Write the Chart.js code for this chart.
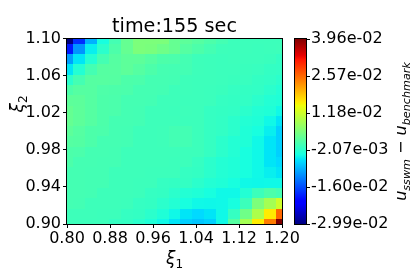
<!DOCTYPE html>
<html><head><meta charset="utf-8">
<script src="https://cdn.jsdelivr.net/npm/chart.js@4/dist/chart.umd.min.js"></script>
<style>html,body{margin:0;padding:0;background:#fff}#wrap{width:415px;height:271px}</style>
</head><body><div id="wrap"><canvas id="c" width="415" height="271"></canvas></div>
<script>
const titleText = 'time:155 sec';
const xLabel = ['ξ', '1'];
const yLabel = ['ξ', '2'];
// grid nodes (cell centres)
const xNodes = [0.8000,0.8222,0.8444,0.8667,0.8889,0.9111,0.9333,0.9556,0.9778,1.0000,1.0222,1.0444,1.0667,1.0889,1.1111,1.1333,1.1556,1.1778,1.2000];
const yNodes = [1.1000,1.0889,1.0778,1.0667,1.0556,1.0444,1.0333,1.0222,1.0111,1.0000,0.9889,0.9778,0.9667,0.9556,0.9444,0.9333,0.9222,0.9111,0.9000];
const xTicks = [0.80,0.88,0.96,1.04,1.12,1.20];
const yTicks = [0.90,0.94,0.98,1.02,1.06,1.10];
const cbTickValues = [-0.029856,-0.015964,-0.002072,0.011821,0.025713,0.039605];
const cbTickLabels = ['-2.99e-02','-1.60e-02','-2.07e-03','1.18e-02','2.57e-02','3.96e-02'];
// u_sswm - u_benchmark, in units of 1e-3, rows from y=1.10 (top) to y=0.90 (bottom)
const valueRows = [
[-29.856,-18.1,-9.1,-3.5,0.2,3.0,4.9,4.9,4.9,3.0,2.3,1.6,0.9,0.2,-0.5,-0.5,-0.5,-0.5,-0.5],
[-19.5,-11.1,-4.9,-1.9,0.9,3.0,4.9,4.7,3.8,3.0,1.6,0.9,0.2,-0.4,-0.5,-0.5,-0.6,-0.5,-0.4],
[-10.4,-5.6,-2.6,0.2,1.6,2.3,2.3,1.6,0.9,0.8,0.2,-0.4,-0.5,-0.6,-0.5,-0.6,-0.6,-0.7,-1.2],
[-5.6,-2.6,0.2,1.6,1.7,2.3,1.6,0.9,0.3,0.2,0.1,-0.4,-0.5,-0.6,-0.6,-0.7,-0.8,-1.2,-1.3],
[-1.9,0.2,1.6,1.7,1.6,0.9,0.8,0.2,0.2,0.1,-0.4,-0.5,-0.5,-0.6,-0.7,-0.8,-1.2,-1.4,-1.9],
[0.9,1.6,1.6,1.0,0.9,0.8,0.2,0.2,0.1,-0.4,-0.4,-0.5,-0.6,-0.7,-1.1,-1.2,-1.3,-1.9,-2.6],
[2.3,2.2,1.6,0.9,0.8,0.2,0.2,0.1,-0.4,-0.4,-0.5,-0.5,-0.6,-1.1,-1.2,-1.3,-1.9,-2.6,-2.9],
[3.0,2.3,1.6,0.9,0.8,0.2,0.1,-0.4,-0.4,-0.5,-0.4,-0.5,-1.1,-1.2,-1.3,-1.9,-2.6,-2.9,-4.2],
[3.0,2.3,1.6,0.9,0.2,0.2,0.1,-0.4,-0.4,-0.4,-0.5,-0.5,-1.1,-1.3,-1.9,-2.6,-2.9,-4.2,-5.6],
[2.3,1.6,0.9,0.8,0.2,0.1,-0.4,-0.4,-0.3,0.1,0.1,-0.5,-1.1,-1.3,-1.9,-2.9,-3.5,-4.9,-7.0],
[1.6,1.5,0.9,0.2,0.2,0.1,-0.4,-0.4,-0.3,0.1,0.1,-0.5,-1.1,-1.9,-2.6,-2.9,-4.2,-5.6,-7.0],
[0.9,0.8,0.2,0.2,0.1,-0.4,-0.4,-0.4,-0.4,-0.4,-0.5,-0.5,-1.1,-1.9,-2.6,-3.5,-4.2,-5.6,-7.0],
[0.9,0.2,0.2,0.1,0.1,-0.4,-0.4,-0.4,-0.4,-0.5,-0.5,-1.1,-1.9,-2.6,-2.9,-3.5,-4.2,-5.6,-6.3],
[0.2,0.2,0.1,0.1,-0.4,-0.4,-0.4,-0.5,-0.5,-0.5,-1.1,-1.2,-1.9,-2.6,-2.9,-3.5,-4.2,-4.9,-5.6],
[0.2,0.2,0.1,0.1,-0.4,-0.4,-0.5,-0.5,-1.1,-1.2,-1.2,-1.9,-2.6,-2.9,-3.5,-4.2,-4.3,-4.2,-4.2],
[0.2,0.2,0.1,-0.4,-0.4,-0.4,-0.5,-1.1,-1.2,-1.9,-2.6,-2.9,-3.5,-4.2,-4.2,-2.6,-0.5,0.9,0.2],
[0.2,0.1,-0.4,-0.4,-0.4,-0.5,-1.1,-1.2,-1.9,-2.6,-3.5,-4.2,-4.3,-4.2,-3.5,-0.5,4.9,8.3,11.8],
[-0.4,-0.4,-0.4,-0.5,-0.5,-1.1,-1.2,-1.9,-2.9,-4.2,-5.6,-6.3,-5.6,-4.2,-1.1,3.8,9.0,16.0,25.7],
[-0.4,-0.5,-0.5,-0.5,-1.1,-1.2,-1.9,-2.9,-4.2,-5.6,-7.0,-7.7,-7.0,-4.2,1.6,8.3,16.0,24.3,39.605]
];
const VALUE_UNIT = 1e-3;

const vmin = cbTickValues[0], vmax = cbTickValues[cbTickValues.length - 1];

// matplotlib "jet" colormap segments
const JET = {
  r: [[0,0],[0.35,0],[0.66,1],[0.89,1],[1,0.5]],
  g: [[0,0],[0.125,0],[0.375,1],[0.64,1],[0.91,0],[1,0]],
  b: [[0,0.5],[0.11,1],[0.34,1],[0.65,0],[1,0]]
};
function seg(pts, t) {
  for (let k = 1; k < pts.length; k++) {
    if (t <= pts[k][0]) {
      const [t0, v0] = pts[k-1], [t1, v1] = pts[k];
      return v0 + (v1 - v0) * (t - t0) / (t1 - t0);
    }
  }
  return pts[pts.length-1][1];
}
function jet(t) {
  t = Math.max(0, Math.min(1, t));
  const r = Math.round(255*seg(JET.r, t)), g = Math.round(255*seg(JET.g, t)), b = Math.round(255*seg(JET.b, t));
  return `rgb(${r},${g},${b})`;
}

const cells = [];
valueRows.forEach((row, j) => row.forEach((v, i) => cells.push({x: xNodes[i], y: yNodes[j], v: v * VALUE_UNIT, i, j})));

const heatmap = {
  id: 'heatmap',
  beforeDatasetsDraw(chart) {
    const {ctx, scales: {x, y}} = chart;
    const data = chart.data.datasets[0].data;
    ctx.save();
    for (const c of data) {
      const xl = c.i > 0 ? (xNodes[c.i-1] + c.x) / 2 : c.x;
      const xr = c.i < xNodes.length - 1 ? (xNodes[c.i+1] + c.x) / 2 : c.x;
      const yt = c.j > 0 ? (yNodes[c.j-1] + c.y) / 2 : c.y;
      const yb = c.j < yNodes.length - 1 ? (yNodes[c.j+1] + c.y) / 2 : c.y;
      const X0 = Math.round(x.getPixelForValue(xl)), X1 = Math.round(x.getPixelForValue(xr));
      const Y0 = Math.round(y.getPixelForValue(yt)), Y1 = Math.round(y.getPixelForValue(yb));
      ctx.fillStyle = jet((c.v - vmin) / (vmax - vmin));
      ctx.fillRect(X0, Y0, X1 - X0, Y1 - Y0);
    }
    ctx.restore();
  }
};

function drawMath(ctx, parts, cx, baseY) {
  let total = 0;
  parts.forEach(p => { ctx.font = p.f; p.w = ctx.measureText(p.t).width; total += p.w; });
  let px = cx - total / 2;
  parts.forEach(p => { ctx.font = p.f; ctx.fillText(p.t, px, baseY + p.dy); px += p.w; });
}

const decorations = {
  id: 'decorations',
  afterDraw(chart) {
    const {ctx, chartArea: a, scales} = chart;
    const cb = scales.cb;
    ctx.save();
    // plot frame
    ctx.strokeStyle = '#000'; ctx.lineWidth = 1;
    ctx.strokeRect(Math.round(a.left) - 0.5, Math.round(a.top) - 0.5, Math.round(a.right - a.left) + 1, Math.round(a.bottom - a.top) + 1);
    // colorbar
    const cbL = Math.round(a.right) + 13, cbW = 11;
    const cbT = Math.round(cb.getPixelForValue(vmax)), cbB = Math.round(cb.getPixelForValue(vmin));
    const grad = ctx.createLinearGradient(0, cbB, 0, cbT);
    [0,0.11,0.125,0.34,0.35,0.375,0.64,0.65,0.66,0.89,0.91,1].forEach(s => grad.addColorStop(s, jet(s)));
    ctx.fillStyle = grad;
    ctx.fillRect(cbL, cbT, cbW, cbB - cbT);
    ctx.strokeRect(cbL - 0.5, cbT - 0.5, cbW + 1, cbB - cbT + 1);
    ctx.beginPath();
    cbTickValues.forEach(v => {
      const py = Math.round(cb.getPixelForValue(v)) + 0.5;
      ctx.moveTo(cbL + cbW, py); ctx.lineTo(cbL + cbW + 4, py);
    });
    ctx.stroke();
    ctx.fillStyle = '#000'; ctx.textBaseline = 'alphabetic'; ctx.textAlign = 'left';
    // x axis label ξ1
    drawMath(ctx, [
      {t: xLabel[0], f: 'italic 17px "DejaVu Sans"', dy: 0},
      {t: xLabel[1], f: '12px "DejaVu Sans"', dy: 3.5}
    ], (a.left + a.right) / 2, 264);
    // y axis label ξ2 (rotated)
    ctx.save();
    ctx.translate(23, 104);
    ctx.rotate(-Math.PI / 2);
    drawMath(ctx, [
      {t: yLabel[0], f: 'italic 17px "DejaVu Sans"', dy: 0},
      {t: yLabel[1], f: '12px "DejaVu Sans"', dy: 3.5}
    ], 0, 0);
    ctx.restore();
    // colorbar label: u_sswm − u_benchmark (rotated)
    ctx.translate(406, (cbT + cbB) / 2);
    ctx.rotate(-Math.PI / 2);
    drawMath(ctx, [
      {t: 'u', f: 'italic 16px "DejaVu Sans"', dy: 0},
      {t: 'sswm', f: 'italic 11.2px "DejaVu Sans"', dy: 3.5},
      {t: ' − ', f: '16px "DejaVu Sans"', dy: 0},
      {t: 'u', f: 'italic 16px "DejaVu Sans"', dy: 0},
      {t: 'benchmark', f: 'italic 11.2px "DejaVu Sans"', dy: 3.5}
    ], 0, 0);
    ctx.restore();
  }
};

const tickFont = {family: 'DejaVu Sans', size: 16};
new Chart(document.getElementById('c'), {
  type: 'scatter',
  data: {datasets: [{data: cells, pointRadius: 0, pointHoverRadius: 0, showLine: false}]},
  options: {
    responsive: false, animation: false, events: [],
    layout: {padding: 0},
    plugins: {legend: {display: false}, tooltip: {enabled: false}, title: {display: false}},
    scales: {
      x: {
        type: 'linear', position: 'bottom', min: 0.8, max: 1.2, z: 1,
        afterBuildTicks: s => { s.ticks = xTicks.map(v => ({value: v})); },
        afterFit: s => { s.height = 47; },
        grid: {color: '#b0b0b0', lineWidth: 1, tickColor: '#000', tickLength: 4, tickWidth: 1},
        border: {display: false},
        ticks: {font: tickFont, color: '#000', padding: 1, maxRotation: 0, autoSkip: false, callback: v => v.toFixed(2)}
      },
      y: {
        type: 'linear', position: 'left', min: 0.9, max: 1.1, z: 1,
        afterBuildTicks: s => { s.ticks = yTicks.map(v => ({value: v})); },
        afterFit: s => { s.width = 67; },
        grid: {color: '#b0b0b0', lineWidth: 1, tickColor: '#000', tickLength: 4, tickWidth: 1},
        border: {display: false},
        ticks: {font: tickFont, color: '#000', padding: 2, autoSkip: false, callback: v => v.toFixed(2)}
      },
      xTop: {
        type: 'linear', position: 'top', axis: 'x',
        afterFit: s => { s.height = 24; },
        grid: {display: false, drawTicks: false}, border: {display: false},
        ticks: {display: false},
        title: {display: true, text: titleText, font: {family: 'DejaVu Sans', size: 19.2}, color: '#000', padding: {top: 1, bottom: 0}}
      },
      cb: {
        type: 'linear', position: 'right', axis: 'y', min: vmin, max: vmax,
        afterBuildTicks: s => { s.ticks = cbTickValues.map(v => ({value: v})); },
        afterFit: s => { s.width = 133; },
        grid: {display: false, drawOnChartArea: false, drawTicks: false}, border: {display: false},
        ticks: {font: tickFont, color: '#000', padding: 29, autoSkip: false, callback: (v, idx) => cbTickLabels[idx]}
      }
    }
  },
  plugins: [heatmap, decorations]
});
</script>
</body></html>
